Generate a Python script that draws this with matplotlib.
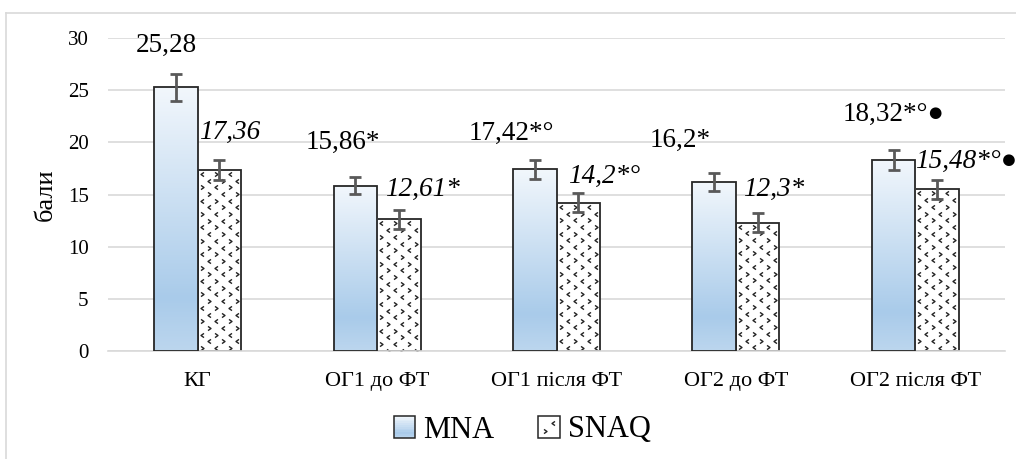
import numpy as np
import matplotlib
matplotlib.use("Agg")
import matplotlib.pyplot as plt
from matplotlib.path import Path
from matplotlib.patches import Rectangle
from matplotlib.colors import LinearSegmentedColormap
from matplotlib.legend_handler import HandlerBase
from matplotlib.lines import Line2D

# ---------------- data ----------------
categories = ["КГ", "ОГ1 до ФТ", "ОГ1 після ФТ", "ОГ2 до ФТ", "ОГ2 після ФТ"]
mna = [25.28, 15.86, 17.42, 16.2, 18.32]
snaq = [17.36, 12.61, 14.2, 12.3, 15.48]
mna_err = [1.3, 0.85, 0.9, 0.85, 0.95]
snaq_err = [0.95, 0.9, 0.9, 0.9, 0.9]
mna_labels = ["25,28", "15,86*", "17,42*°", "16,2*", "18,32*°●"]
snaq_labels = ["17,36", "12,61*", "14,2*°", "12,3*", "15,48*°●"]
series_names = ["MNA", "SNAQ"]
yticks = [0, 5, 10, 15, 20, 25, 30]

# label offsets (pixels) relative to bar top centre
mna_off = [(-10, 42), (-12, 43), (-23, 36), (-34, 42), (0, 45)]
snaq_off = [(10, 37), (24, 30), (26, 26), (16, 33), (29, 28)]

plt.rcParams['font.family'] = ['Liberation Serif', 'DejaVu Serif']

W, H = 1016, 459
fig = plt.figure(figsize=(W / 100, H / 100), dpi=100)
ax = fig.add_axes([108 / W, (H - 351) / H, (1005 - 108) / W, (351 - 38) / H])

# outer chart frame (top and left edges visible)
fig.add_artist(Line2D([6 / W, 6 / W], [0, 1 - 13 / H], color="#d9d9d9", lw=1.2,
                      transform=fig.transFigure))
fig.add_artist(Line2D([6 / W, 1], [1 - 13 / H, 1 - 13 / H], color="#d9d9d9", lw=1.2,
                      transform=fig.transFigure))

ax.set_xlim(-0.5, 4.5)
ax.set_ylim(0, 30)
ax.set_yticks(yticks)
ax.set_yticklabels([str(t) for t in yticks], fontsize=15)
ax.set_xticks(range(len(categories)))
ax.set_xticklabels(categories, fontsize=16)
ax.tick_params(axis='both', length=0)
ax.tick_params(axis='y', pad=14)
ax.tick_params(axis='x', pad=15)
ax.grid(axis='y', color="#d9d9d9", lw=1.2)
ax.set_axisbelow(True)
for s in ["top", "right", "left"]:
    ax.spines[s].set_visible(False)
ax.spines["bottom"].set_color("#d9d9d9")
ax.spines["bottom"].set_linewidth(1.2)
ax.set_ylabel("бали", fontsize=19, labelpad=8)

x = np.arange(len(categories))
bw = 0.243
grad_cmap = LinearSegmentedColormap.from_list(
    "g", [(0.0, "#f2f7fc"), (0.8, "#a9cbea"), (1.0, "#bcd6ee")])

edge = "#262626"
mna_bars = ax.bar(x - bw / 2, mna, bw, facecolor="none", edgecolor=edge, lw=1.3, zorder=3)
snaq_bars = ax.bar(x + bw / 2, snaq, bw, facecolor="white", edgecolor=edge, lw=1.3, zorder=2)

grad = np.linspace(0, 1, 256).reshape(-1, 1)
for b in mna_bars:
    x0, y0 = b.get_x(), b.get_y()
    w, h = b.get_width(), b.get_height()
    im = ax.imshow(grad, cmap=grad_cmap, aspect='auto',
                   extent=(x0, x0 + w, y0, y0 + h), origin='upper', zorder=2.5)
    im.set_clip_path(b)
ax.set_xlim(-0.5, 4.5)
ax.set_ylim(0, 30)

# pattern for SNAQ bars
left_chev = Path([(0.5, 0.7), (-0.5, 0.0), (0.5, -0.7)],
                 [Path.MOVETO, Path.LINETO, Path.LINETO])
right_chev = Path([(-0.5, 0.7), (0.5, 0.0), (-0.5, -0.7)],
                  [Path.MOVETO, Path.LINETO, Path.LINETO])
for b in snaq_bars:
    (px0, py0) = ax.transData.transform((b.get_x(), 0))
    (px1, py1) = ax.transData.transform((b.get_x() + b.get_width(), b.get_height()))
    lx, ly, rx, ry = [], [], [], []
    k = 0
    yy = py1 - 4
    while yy > py0:
        j = 0
        xx = px0 + 4 + (7 if k % 2 else 0)
        while xx < px1:
            if (j + k // 2) % 2 == 0:
                lx.append(xx); ly.append(yy)
            else:
                rx.append(xx); ry.append(yy)
            xx += 14
            j += 1
        yy -= 6.7
        k += 1
    for xs, ys, mk in [(lx, ly, left_chev), (rx, ry, right_chev)]:
        ln, = ax.plot(xs, ys, linestyle='none', marker=mk, markersize=3.0,
                      markerfacecolor='none', markeredgecolor='#222222',
                      markeredgewidth=1.0, transform=None, zorder=2.2)
        ln.set_clip_path(b)

# error bars
ax.errorbar(x - bw / 2, mna, yerr=mna_err, fmt='none', ecolor="#595959",
            elinewidth=2, capsize=4.5, capthick=2, zorder=4)
ax.errorbar(x + bw / 2, snaq, yerr=snaq_err, fmt='none', ecolor="#595959",
            elinewidth=2, capsize=4.5, capthick=2, zorder=4)

# data labels
for i in range(len(categories)):
    ax.annotate(mna_labels[i], xy=(x[i] - bw / 2, mna[i]), xytext=mna_off[i],
                textcoords='offset pixels', ha='center', va='center',
                fontsize=19.5, color="black",
                family=['Liberation Serif', 'DejaVu Sans'], zorder=5)
    ax.annotate(snaq_labels[i], xy=(x[i] + bw / 2, snaq[i]), xytext=snaq_off[i],
                textcoords='offset pixels', ha='center', va='center',
                fontsize=19.5, style='italic', color="black",
                family=['Liberation Serif', 'DejaVu Sans'], zorder=5)


# legend handlers
class GradHandler(HandlerBase):
    def create_artists(self, legend, orig, xd, yd, width, height, fontsize, trans):
        arts = []
        n = 12
        size = height * 1.0
        x0 = xd + (width - size) / 2
        y0 = yd + (height - size) / 2
        for i in range(n):
            c = grad_cmap(1 - (i + 0.5) / n)
            arts.append(Rectangle((x0, y0 + i * size / n), size, size / n + 0.3,
                                  facecolor=c, edgecolor='none', transform=trans))
        arts.append(Rectangle((x0, y0), size, size, facecolor='none',
                              edgecolor=edge, lw=1.1, transform=trans))
        return arts


class PatHandler(HandlerBase):
    def create_artists(self, legend, orig, xd, yd, width, height, fontsize, trans):
        size = height * 1.0
        x0 = xd + (width - size) / 2
        y0 = yd + (height - size) / 2
        arts = [Rectangle((x0, y0), size, size, facecolor='white',
                          edgecolor=edge, lw=1.1, transform=trans)]
        pts = [(0.3, 0.3, right_chev), (0.7, 0.7, left_chev)]
        for fx, fy, mk in pts:
            arts.append(Line2D([x0 + fx * size], [y0 + fy * size], linestyle='none',
                               marker=mk, markersize=3.0, markerfacecolor='none',
                               markeredgecolor='#222222', markeredgewidth=1.0,
                               transform=trans))
        return arts


h1 = Rectangle((0, 0), 1, 1)
h2 = Rectangle((0, 0), 1, 1)
fig.legend([h1, h2], series_names, loc='center', bbox_to_anchor=(522 / W, 1 - 430 / H),
           ncol=2, frameon=False, fontsize=22, handler_map={h1: GradHandler(), h2: PatHandler()},
           handlelength=0.75, handletextpad=0.25, columnspacing=1.4)

fig.savefig("out.png", dpi=100)
